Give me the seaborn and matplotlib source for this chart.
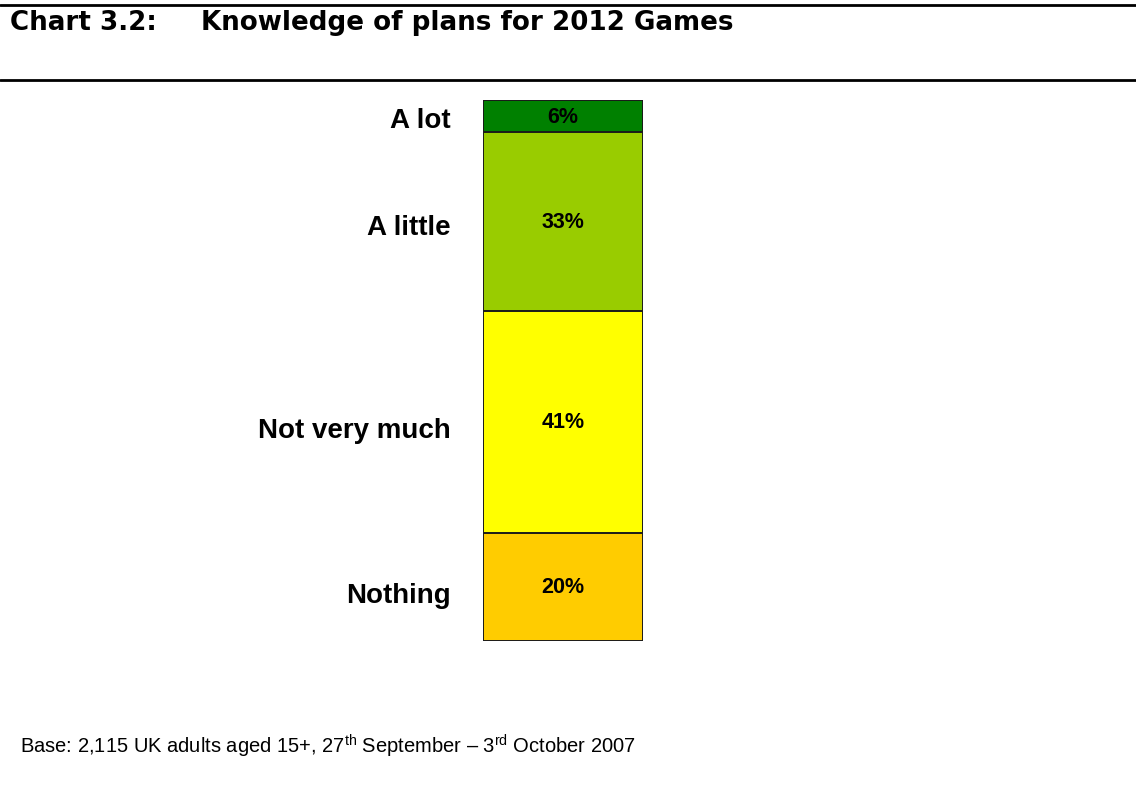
import numpy as np
import matplotlib
matplotlib.use("Agg")
import matplotlib.pyplot as plt
from matplotlib.lines import Line2D
import seaborn as sns

# Survey responses, listed bottom-to-top in the stacked column
categories = ["Nothing", "Not very much", "A little", "A lot"]
shares = [20, 41, 33, 6]
colors = ["#FFCC00", "#FFFF00", "#99CC00", "#008000"]

title_num = "Chart 3.2:"
title_text = "Knowledge of plans for 2012 Games"
footnote = r"Base: 2,115 UK adults aged 15+, 27$^{\mathrm{th}}$ September – 3$^{\mathrm{rd}}$ October 2007"

sns.set_theme(style="white")
plt.rcParams["font.family"] = ["Liberation Sans", "DejaVu Sans"]
plt.rcParams["mathtext.fontset"] = "custom"
plt.rcParams["mathtext.rm"] = "Liberation Sans"
plt.rcParams["text.color"] = "black"

W, H = 1136, 801
fig = plt.figure(figsize=(W / 100, H / 100), dpi=100)
fig.patch.set_facecolor("white")

# axes placed so that the column spans its full height
left, right, top, bottom = 483, 643, 100, 641
ax = fig.add_axes([left / W, 1 - bottom / H, (right - left) / W, (bottom - top) / H])

tops = np.cumsum(shares)
bases = tops - np.array(shares)
# overlay cumulative columns, tallest first, to form the stack
for i in range(len(categories) - 1, -1, -1):
    sns.barplot(x=[0], y=[tops[i]], color=colors[i], width=1.0, saturation=1,
                edgecolor="#1a1a1a", linewidth=1.4, ax=ax, zorder=2)

ax.set_xlim(-0.5, 0.5)
ax.set_ylim(0, 100)
mids = bases + np.array(shares) / 2
for m, s in zip(mids, shares):
    ax.text(0, m - 0.2, f"{s}%", ha="center", va="center", fontsize=15.5,
            fontweight="bold", color="black", zorder=3)

ax.set_xticks([])
ax.set_yticks(mids - np.array([1.2, 1.2, 0.6, 0.4]))
ax.set_yticklabels(categories, fontsize=20, fontweight="bold", color="black")
ax.tick_params(axis="y", length=0, pad=23)
for sp in ax.spines.values():
    sp.set_visible(False)
ax.set_xlabel("")
ax.set_ylabel("")
ax.grid(False)

# header rules and title
fig.add_artist(Line2D([0, 1], [1 - 5 / H, 1 - 5 / H], color="black", linewidth=2))
fig.add_artist(Line2D([0, 1], [1 - 80 / H, 1 - 80 / H], color="black", linewidth=2))
fig.text(10 / W, 1 - 23 / H, title_num, ha="left", va="center", fontsize=18.8,
         fontweight="bold", family=["DejaVu Sans"], color="black")
fig.text(201 / W, 1 - 23 / H, title_text, ha="left", va="center", fontsize=18.8,
         fontweight="bold", family=["DejaVu Sans"], color="black")

fig.text(20 / W, 1 - 746 / H, footnote, ha="left", va="center", fontsize=14.5,
         color="black")

fig.savefig("out.png", dpi=100, facecolor="white")
